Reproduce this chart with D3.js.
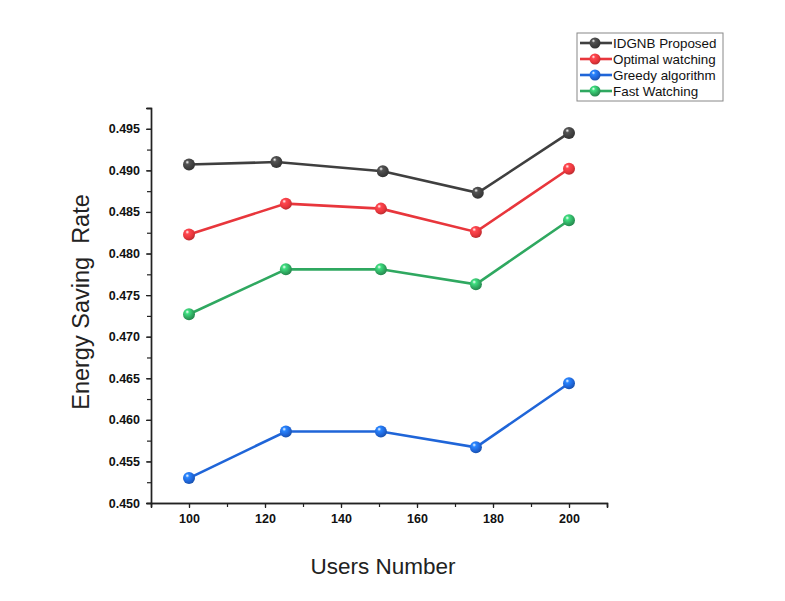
<!DOCTYPE html>
<html>
<head>
<meta charset="utf-8">
<script src="https://cdn.jsdelivr.net/npm/d3@7/dist/d3.min.js"></script>
<style>
  html, body { margin: 0; padding: 0; background: #fff; }
  svg { display: block; font-family: "Liberation Sans", Arial, sans-serif; }
</style>
</head>
<body>
<svg id="chart" width="785" height="601"></svg>
<script>
// Series names and colours
const seriesNames = ["IDGNB Proposed", "Optimal watching", "Greedy algorithm", "Fast Watching"];
const seriesColors = ["#3f3f3f", "#e8363c", "#1f65d8", "#2fa860"];

// Users number for each point
const usersIDGNB   = [100, 123, 151, 176, 200];
const usersOptimal = [100, 125.5, 150.5, 175.5, 200];
const usersGreedy  = [100, 125.5, 150.5, 175.5, 200];
const usersFast    = [100, 125.5, 150.5, 175.5, 200];

// Energy saving rate values
const rateIDGNB   = [0.4907, 0.4910, 0.4899, 0.4873, 0.4945];
const rateOptimal = [0.4823, 0.4860, 0.4854, 0.4826, 0.4902];
const rateGreedy  = [0.4530, 0.4586, 0.4586, 0.4567, 0.4644];
const rateFast    = [0.4727, 0.4781, 0.4781, 0.4763, 0.4840];

// Tick values
const xTicks = [100, 120, 140, 160, 180, 200];
const yTicks = [0.450, 0.455, 0.460, 0.465, 0.470, 0.475, 0.480, 0.485, 0.490, 0.495];

const seriesX = [usersIDGNB, usersOptimal, usersGreedy, usersFast];
const seriesY = [rateIDGNB, rateOptimal, rateGreedy, rateFast];
const series = seriesNames.map((name, i) => ({
  name, color: seriesColors[i],
  points: seriesX[i].map((x, j) => ({ x, y: seriesY[i][j] }))
}));

const svg = d3.select("#chart");

const plotLeft = 151, plotRight = 607, plotTop = 108, plotBottom = 503;
const x = d3.scaleLinear().domain([90, 210]).range([plotLeft, plotRight]);
const y = d3.scaleLinear().domain([0.450, 0.4975]).range([plotBottom, plotTop]);

// Shaded sphere gradients for the markers
const defs = svg.append("defs");
series.forEach((s, i) => {
  const g = defs.append("radialGradient")
    .attr("id", "ball" + i)
    .attr("cx", "40%").attr("cy", "35%").attr("r", "65%")
    .attr("fx", "35%").attr("fy", "30%");
  g.append("stop").attr("offset", "0%").attr("stop-color", "#ffffff");
  g.append("stop").attr("offset", "25%").attr("stop-color", d3.color(s.color).brighter(0.8));
  g.append("stop").attr("offset", "70%").attr("stop-color", s.color);
  g.append("stop").attr("offset", "100%").attr("stop-color", d3.color(s.color).darker(0.6));
});

// Axes
const xAxisMinor = d3.axisBottom(x).tickValues(d3.range(90, 211, 10)).tickSize(4).tickFormat("");
const xAxis = d3.axisBottom(x).tickValues(xTicks).tickSize(5).tickFormat(d3.format("d")).tickPadding(6);
const yAxisMinor = d3.axisLeft(y).tickValues(d3.range(0, 20).map(k => 0.450 + k * 0.0025)).tickSize(4).tickFormat("");
const yAxis = d3.axisLeft(y).tickValues(yTicks).tickSize(5).tickFormat(d3.format(".3f")).tickPadding(6);

function styleAxis(g) {
  g.select(".domain").attr("stroke", "#222").attr("stroke-width", 1.4);
  g.selectAll(".tick line").attr("stroke", "#222").attr("stroke-width", 1.2);
  g.selectAll(".tick text")
    .attr("fill", "#111")
    .style("font-size", "12.5px")
    .style("font-weight", "bold")
    .style("font-family", "'Liberation Sans', Arial, sans-serif");
}

svg.append("g").attr("transform", `translate(0,${plotBottom})`).call(xAxisMinor).call(styleAxis);
svg.append("g").attr("transform", `translate(0,${plotBottom})`).call(xAxis).call(styleAxis);
svg.append("g").attr("transform", `translate(${plotLeft},0)`).call(yAxisMinor).call(styleAxis);
svg.append("g").attr("transform", `translate(${plotLeft},0)`).call(yAxis).call(styleAxis);

// Axis titles
svg.append("text")
  .attr("x", 383).attr("y", 574)
  .attr("text-anchor", "middle")
  .style("font-size", "22.5px")
  .attr("fill", "#222")
  .text("Users Number");

svg.append("text")
  .attr("transform", "translate(89,302) rotate(-90)")
  .attr("text-anchor", "middle")
  .style("font-size", "23.5px")
  .style("white-space", "pre")
  .attr("xml:space", "preserve")
  .attr("fill", "#222")
  .text("Energy Saving  Rate");

// Lines and markers
const line = d3.line().x(d => x(d.x)).y(d => y(d.y));
series.forEach((s, i) => {
  svg.append("path")
    .datum(s.points)
    .attr("fill", "none")
    .attr("stroke", s.color)
    .attr("stroke-width", 2.6)
    .attr("d", line);
  svg.append("g").selectAll("circle")
    .data(s.points)
    .join("circle")
    .attr("cx", d => x(d.x))
    .attr("cy", d => y(d.y))
    .attr("r", 6)
    .attr("fill", `url(#ball${i})`);
});

// Legend
const legend = svg.append("g").attr("transform", "translate(577,33)");
legend.append("rect")
  .attr("x", 0).attr("y", 0).attr("width", 146).attr("height", 68)
  .attr("fill", "#fff").attr("stroke", "#888").attr("stroke-width", 1);
series.forEach((s, i) => {
  const gy = 10 + i * 16;
  legend.append("line")
    .attr("x1", 3).attr("x2", 35).attr("y1", gy).attr("y2", gy)
    .attr("stroke", s.color).attr("stroke-width", 2.6);
  legend.append("circle")
    .attr("cx", 18).attr("cy", gy).attr("r", 5.5)
    .attr("fill", `url(#ball${i})`);
  legend.append("text")
    .attr("x", 36).attr("y", gy + 4.8)
    .style("font-size", "13.4px")
    .attr("fill", "#111")
    .text(s.name);
});
</script>
</body>
</html>
